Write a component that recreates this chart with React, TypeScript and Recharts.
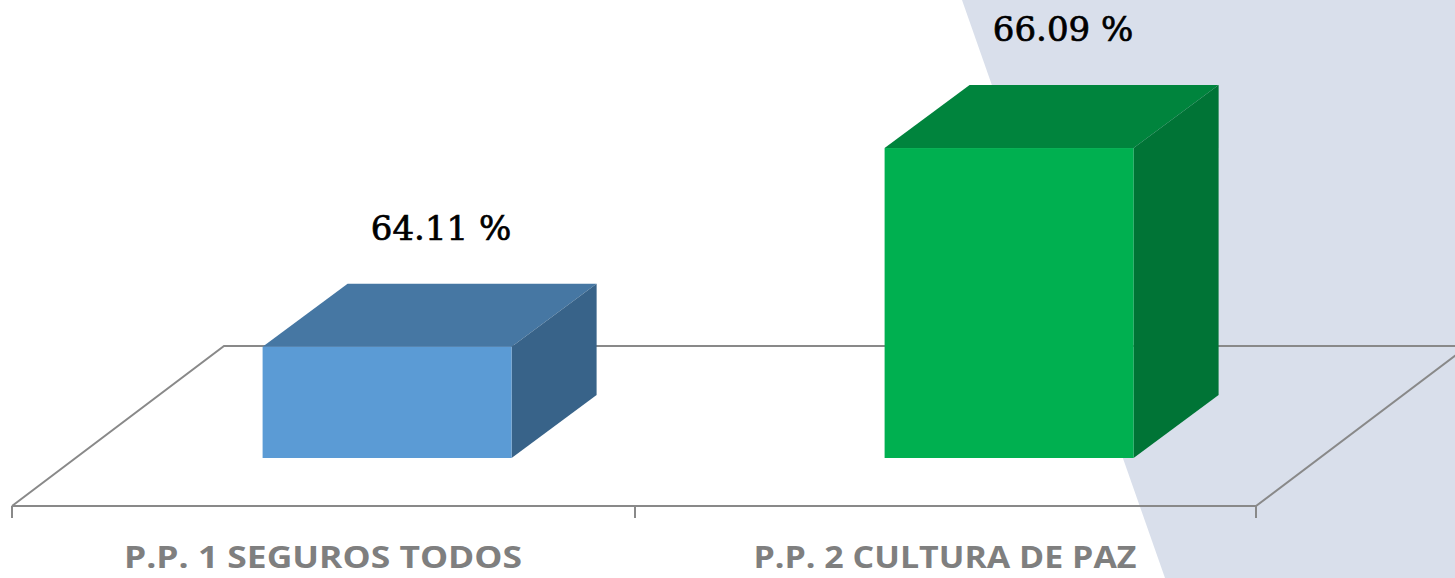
import React from 'react';
import { BarChart, Bar, XAxis, YAxis, LabelList } from 'recharts';

// datos
const categories = ['P.P. 1 SEGUROS TODOS', 'P.P. 2 CULTURA DE PAZ'];
const values = [64.11, 66.09];
const valueLabels = ['64.11 %', '66.09 %'];

const frontColors = ['#5B9BD5', '#00B050'];
const topColors = ['#4677A3', '#00843D'];
const sideColors = ['#386389', '#007436'];

const W = 1455;
const H = 578;
// profundidad del "3D"
const DX = 85;
const DY = 63;
// desplazamiento de las barras dentro del piso
const SHIFT_X = 64;
const SHIFT_Y = 48;

const data = categories.map((name, i) => ({ name, value: values[i], label: valueLabels[i] }));

const idxOf = (name: string) => categories.indexOf(name);

const Box3D = (props: any) => {
  const { x, y, width, height, payload } = props;
  const i = idxOf(payload?.name);
  const fx = x + SHIFT_X;
  const fy = y - SHIFT_Y;
  return (
    <g>
      <polygon
        points={`${fx},${fy} ${fx + DX},${fy - DY} ${fx + width + DX},${fy - DY} ${fx + width},${fy}`}
        fill={topColors[i]}
      />
      <polygon
        points={`${fx + width},${fy} ${fx + width + DX},${fy - DY} ${fx + width + DX},${fy + height - DY} ${fx + width},${fy + height}`}
        fill={sideColors[i]}
      />
      <rect x={fx} y={fy} width={width} height={height} fill={frontColors[i]} />
    </g>
  );
};

const ValueLabel = (props: any) => {
  const { x, y, width, value } = props;
  return (
    <text
      x={x + SHIFT_X + width / 2 + 54}
      y={y - SHIFT_Y - DY - 44}
      textAnchor="middle"
      fontFamily="'DejaVu Serif', serif"
      fontSize={34}
      fill="#000"
      stroke="#000"
      strokeWidth={0.7}
    >
      {value}
    </text>
  );
};

const CategoryTick = (props: any) => {
  const { x, payload } = props;
  const widths = [398, 383];
  const i = idxOf(payload.value);
  return (
    <text
      x={x}
      y={568}
      textAnchor="middle"
      fontFamily="'Open Sans', sans-serif"
      fontWeight="bold"
      fontSize={30}
      fill="#7F7F7F"
      textLength={widths[i]}
      lengthAdjust="spacingAndGlyphs"
    >
      {payload.value}
    </text>
  );
};

// fondo y piso
const Backdrop = () => {
  const line = '#898989';
  return (
    <svg width={W} height={H} style={{ position: 'absolute', left: 0, top: 0 }}>
      <rect x={0} y={0} width={W} height={H} fill="#fff" />
      <polygon points={`962,0 ${W},0 ${W},${H} 1165,${H}`} fill="#D9DFEB" />
      <g stroke={line} strokeWidth={2} fill="none">
        <polyline points="12,506 224,346 1468,346" />
        <polyline points="12,506 1256,506 1468,346" />
        <line x1={12} y1={506} x2={12} y2={518} />
        <line x1={635} y1={506} x2={635} y2={518} />
        <line x1={1256} y1={506} x2={1256} y2={518} />
      </g>
    </svg>
  );
};

export default function App() {
  return (
    <div style={{ position: 'absolute', left: 0, top: 0, width: W, height: H, overflow: 'hidden' }}>
      <Backdrop />
      <div style={{ position: 'absolute', left: 0, top: 0 }}>
        <BarChart
          width={W}
          height={H}
          data={data}
          margin={{ top: 54.6, right: 199, left: 12, bottom: 0 }}
          barCategoryGap="30%"
        >
          <XAxis dataKey="name" height={72} axisLine={false} tickLine={false} tick={<CategoryTick />} interval={0} />
          <YAxis hide domain={[63, 67.5]} />
          <Bar dataKey="value" shape={<Box3D />} isAnimationActive={false}>
            <LabelList dataKey="label" content={<ValueLabel />} />
          </Bar>
        </BarChart>
      </div>
    </div>
  );
}
